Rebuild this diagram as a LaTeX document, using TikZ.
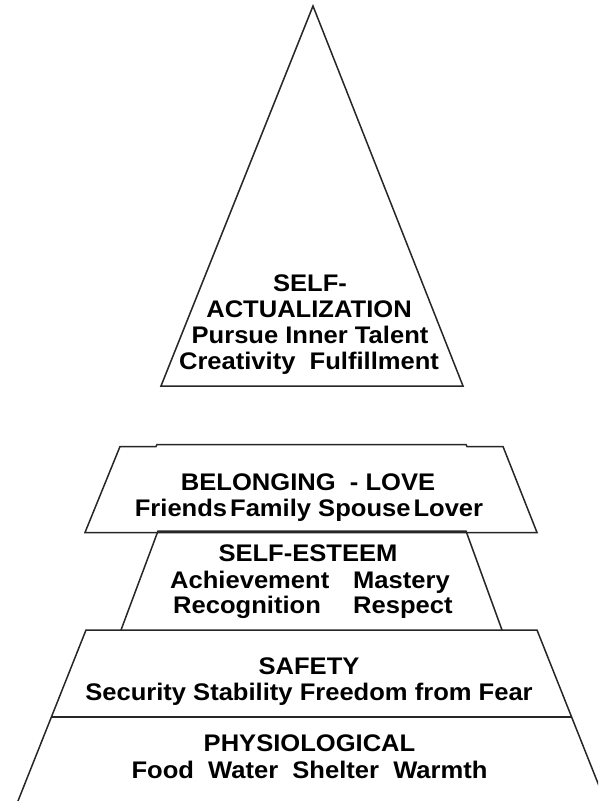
\documentclass[tikz,border=0pt]{standalone}
\usepackage{fontspec}
\setmainfont{Liberation Sans}[FakeStretch=1.065]
\begin{document}
\begin{tikzpicture}[x=1pt,y=-1pt,
  edge/.style={draw=black!85, line width=1.5pt, line join=miter},
  lbl/.style={font=\bfseries\fontsize{24}{26}\selectfont, inner sep=0pt, anchor=base},
  lblw/.style={lbl, anchor=base west}]
\useasboundingbox (0,0) rectangle (598,801);
\begin{scope}
\clip (0,0) rectangle (598,801);
% self-actualization triangle
\draw[edge] (313,6) -- (463,386) -- (161,386) -- cycle;
% belonging - love
\draw[edge] (120,446.5) -- (156,446.5) -- (157,444.5) -- (466,444.5) -- (467,446.5) -- (503,446.5)
  -- (537,532.5) -- (85,532.5) -- cycle;
% self-esteem
\draw[edge] (121,630) -- (158,531) -- (466,531) -- (502,630);
% safety + physiological
\draw[edge] (14.4,810) -- (86,630) -- (537,630) -- (608.6,810);
\draw[edge] (51.4,717) -- (571.6,717);
\end{scope}
% texts
\node[lbl] (sa1) at (310,291.5) {SELF-};
\node[lbl] (sa2) at (309,317.5) {ACTUALIZATION};
\node[lbl] (sa3) at (310,343.5) {Pursue Inner Talent};
\node[lbl] (sa4) at (309,369.5) {Creativity\ \ Fulfillment};
\node[lbl] (bl1) at (308,490) {BELONGING\ \ -\ LOVE};
\node[lbl] (bl2) at (309,516.5) {Friends\hspace{3pt}Family Spouse\hspace{3pt}Lover};
\node[lbl] (se1) at (308,561.5) {SELF-ESTEEM};
\node[lblw] (se2) at (170,588) {Achievement};
\node[lblw] (se3) at (353,588) {Mastery};
\node[lblw] (se4) at (173,613.5) {Recognition};
\node[lblw] (se5) at (353,613.5) {Respect};
\node[lbl] (sf1) at (309,674.5) {SAFETY};
\node[lbl] (sf2) at (309,700.5) {Security Stability Freedom from Fear};
\node[lbl] (ph1) at (309.5,751.5) {PHYSIOLOGICAL};
\node[lbl] (ph2) at (309.5,778.5) {Food\ \ Water\ \ Shelter\ \ Warmth};
\end{tikzpicture}
\end{document}
